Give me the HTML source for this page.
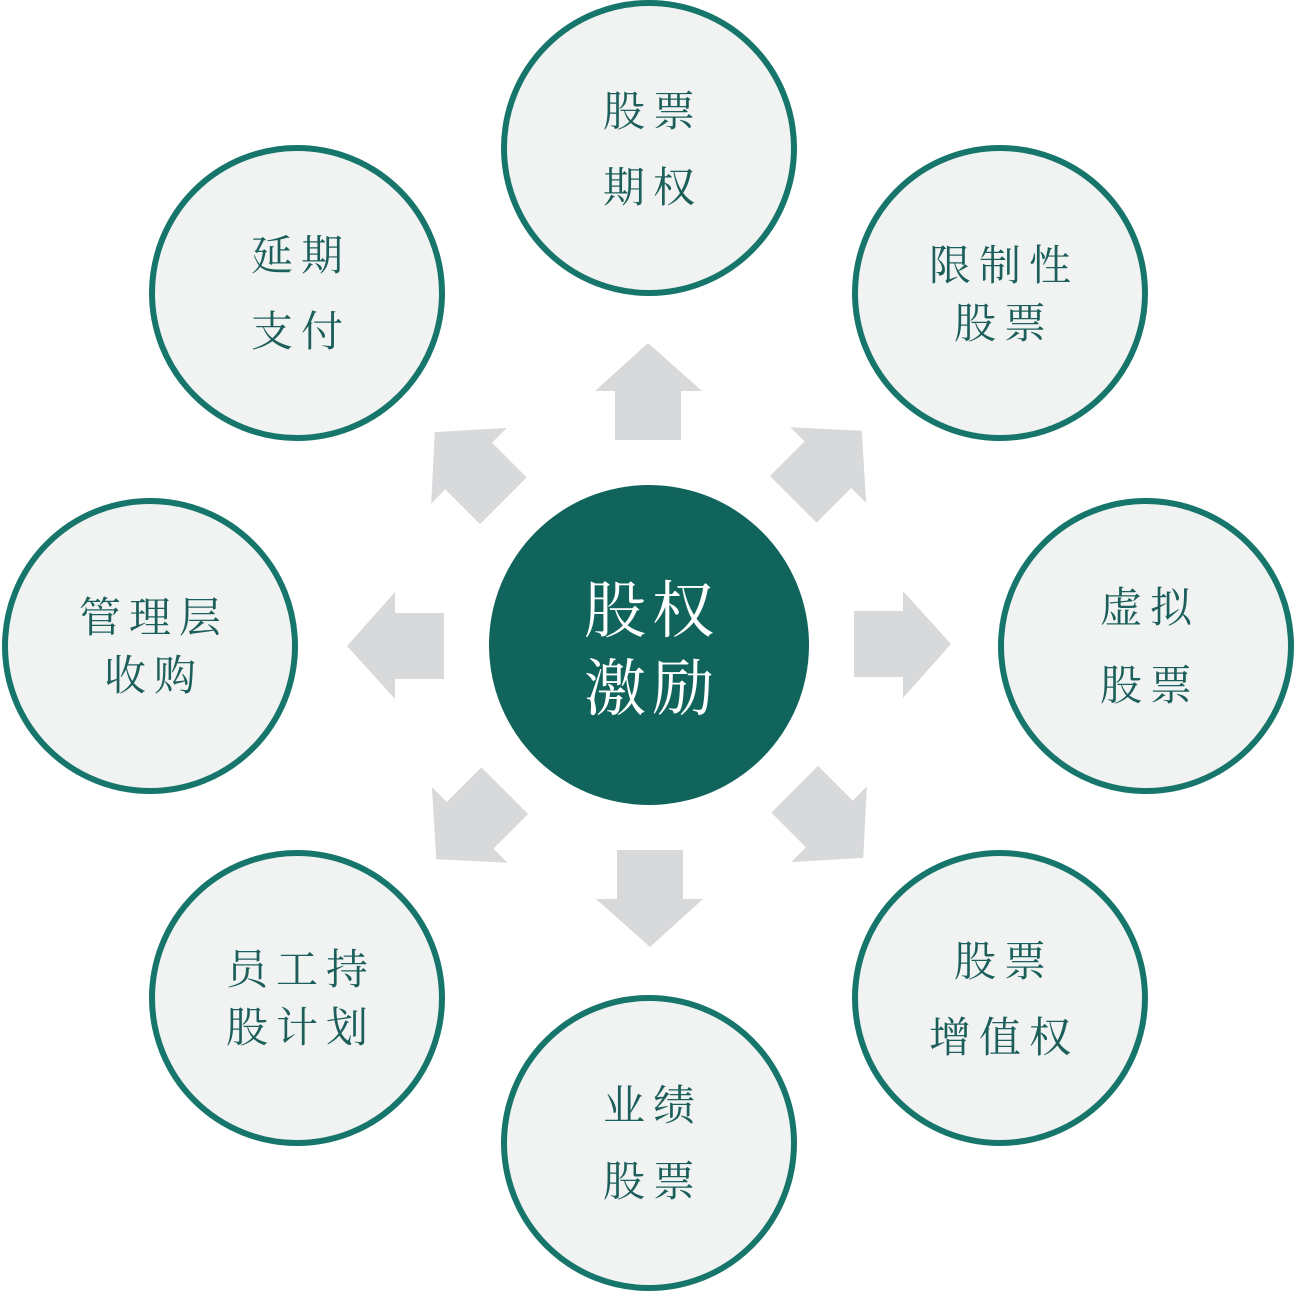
<!DOCTYPE html>
<html><head><meta charset="utf-8"><style>
html,body{margin:0;padding:0;background:#fff;}
svg{display:block;}
text{font-family:"Liberation Serif","Noto Serif CJK SC",serif;}
</style></head><body>
<svg width="1298" height="1296" viewBox="0 0 1298 1296" xmlns="http://www.w3.org/2000/svg">
<defs>
<polygon id="arr" points="648,343 702,391 681,391 681,440 615,440 615,391 595,391" fill="#d8d9db"/>
</defs>
<g>
<use href="#arr"/>
<use href="#arr" transform="rotate(45 649 645)"/>
<use href="#arr" transform="rotate(90 649 645)"/>
<use href="#arr" transform="rotate(135 649 645)"/>
<use href="#arr" transform="rotate(180 649 645)"/>
<use href="#arr" transform="rotate(225 649 645)"/>
<use href="#arr" transform="rotate(270 649 645)"/>
<use href="#arr" transform="rotate(315 649 645)"/>
</g>
<g fill="#f1f2f2" stroke="#17766b" stroke-width="6">
<circle cx="649" cy="148" r="145"/>
<circle cx="1000" cy="293" r="145"/>
<circle cx="1146" cy="646" r="145"/>
<circle cx="1000" cy="998" r="145"/>
<circle cx="649" cy="1143" r="145"/>
<circle cx="297" cy="998" r="145"/>
<circle cx="150" cy="646" r="145"/>
<circle cx="297" cy="293" r="145"/>
</g>
<circle cx="649" cy="645" r="160" fill="#11645c"/>
<g fill="#1c5f5a" font-size="42" text-anchor="middle" letter-spacing="8">
<text x="653" y="126">股票</text><text x="653" y="202">期权</text>
<text x="1004" y="280">限制性</text><text x="1004" y="338">股票</text>
<text x="1150" y="622">虚拟</text><text x="1150" y="700">股票</text>
<text x="1004" y="976">股票</text><text x="1004" y="1052">增值权</text>
<text x="653" y="1120">业绩</text><text x="653" y="1196">股票</text>
<text x="301" y="984">员工持</text><text x="301" y="1042">股计划</text>
<text x="154" y="632">管理层</text><text x="154" y="690">收购</text>
<text x="301" y="270">延期</text><text x="301" y="346">支付</text>
</g>
<g fill="#ffffff" font-size="62" text-anchor="middle" letter-spacing="6">
<text x="652" y="632">股权</text><text x="652" y="710">激励</text>
</g>
</svg>
</body></html>
